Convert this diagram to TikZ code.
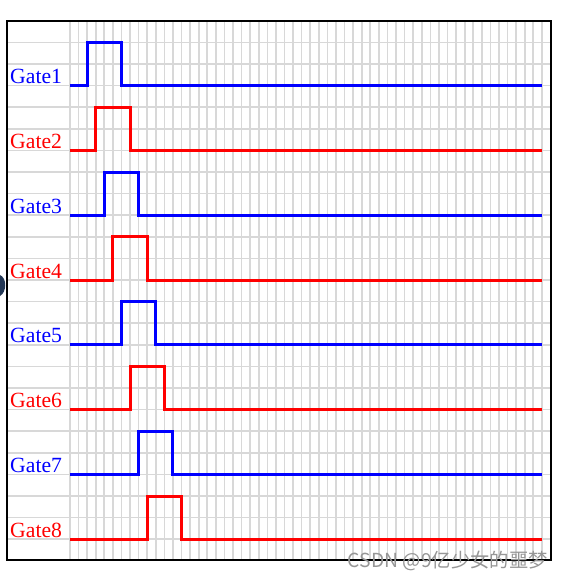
\documentclass[tikz,border=0pt]{standalone}
\usepackage{fontspec}
\setmainfont{Liberation Serif}
\newfontfamily\cjk{Noto Sans CJK SC}
\usepackage{tikz}
\definecolor{bl}{RGB}{0,0,255}
\definecolor{ro}{RGB}{255,0,0}
\definecolor{gl}{RGB}{216,216,216}
\definecolor{wm}{RGB}{150,150,150}
\definecolor{knob}{RGB}{35,55,85}
\tikzset{
  gridln/.style={draw=gl,line width=0.05cm},
  wave/.style={line width=0.09cm,line join=miter},
  gatelbl/.style={anchor=base west,inner sep=0pt,font=\fontsize{18.5}{20}\selectfont}
}
\begin{document}
\begin{tikzpicture}[x=0.03cm,y=-0.03cm]
  \useasboundingbox (0,0) rectangle (563,581);
  \fill[white] (0,0) rectangle (563,581);

  % grid
  \foreach \i in {0,...,55}
    \draw[gridln] (70+8.58*\i,20.8) -- (70+8.58*\i,560);
  \foreach \j in {1,...,24}
    \draw[gridln] (7,20.8+21.6*\j) -- (551,20.8+21.6*\j);

  % frame
  \draw[line width=0.06cm] (7,20.8) rectangle (551,560);
  \fill[knob] (0,275) .. controls (7,278) and (7,292) .. (0,296) -- cycle;

  % gates
  \foreach \k/\col in {1/bl,2/ro,3/bl,4/ro,5/bl,6/ro,7/bl,8/ro} {
    \pgfmathsetmacro{\yb}{85.6+64.8*(\k-1)}
    \pgfmathsetmacro{\yh}{\yb-43.2}
    \pgfmathsetmacro{\xr}{70+8.58*(\k+1)}
    \pgfmathsetmacro{\xf}{70+8.58*(\k+5)}
    \node[gatelbl,text=\col] (g\k) at (10,\yb-2) {Gate\k};
    \draw[wave,\col] (70,\yb) -- (\xr,\yb) -- (\xr,\yh) -- (\xf,\yh) -- (\xf,\yb) -- (542,\yb);
  }

  \node[anchor=base east,inner sep=0pt,text=wm,font=\cjk\fontsize{16.5}{18}\selectfont] (wmark) at (548,567) {CSDN @9亿少女的噩梦};
\end{tikzpicture}
\end{document}
